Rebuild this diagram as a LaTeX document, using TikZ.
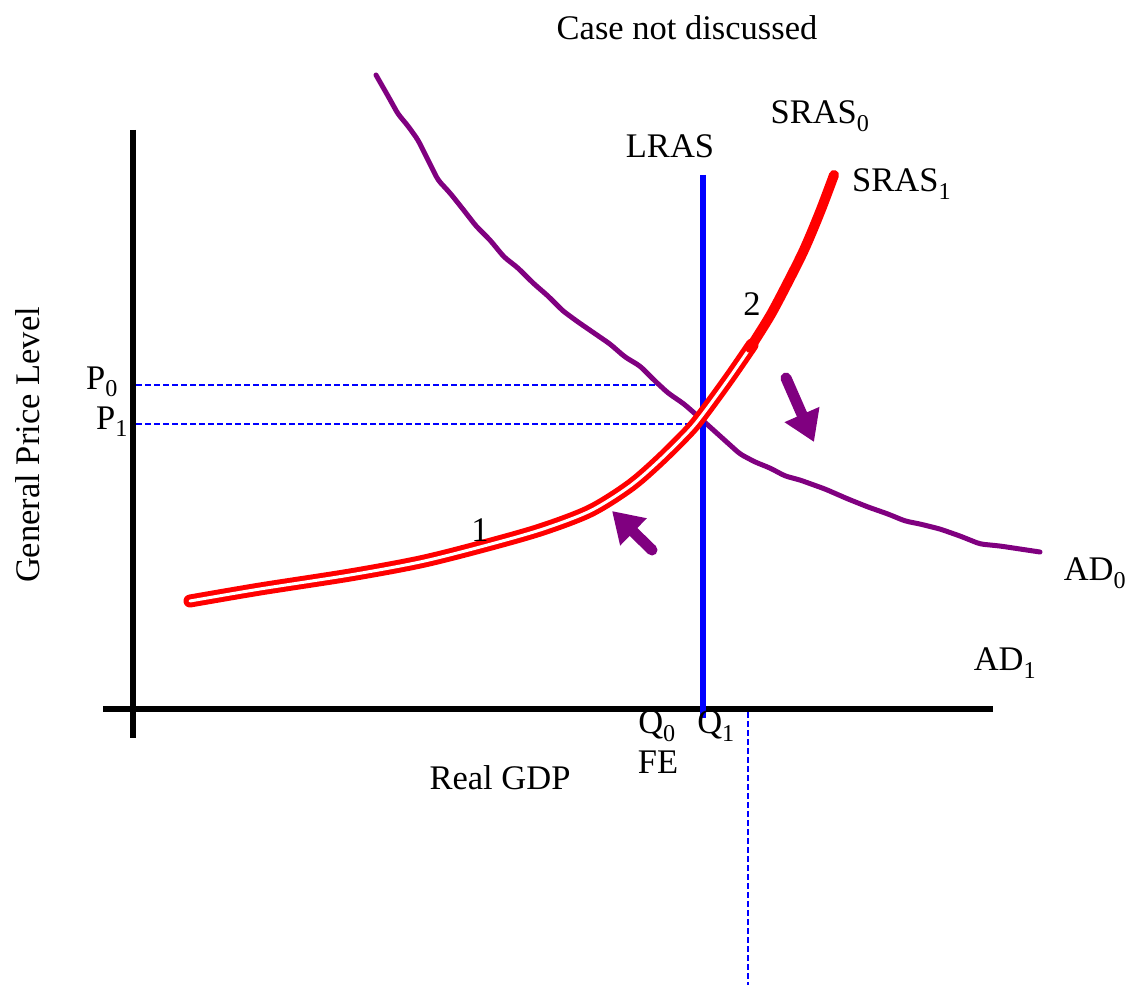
\documentclass[tikz,border=0pt]{standalone}
\usepackage{fontspec}
\setmainfont{Liberation Serif}
\usetikzlibrary{arrows.meta}
\begin{document}
\begin{tikzpicture}[x=1pt,y=-1pt,
  lbl/.style={font=\fontsize{34.5}{40}\selectfont, inner sep=0pt},
  axis/.style={line width=6pt, black},
  guide/.style={blue, line width=1.6pt, dash pattern=on 6pt off 3pt},
  adcurve/.style={color={rgb,255:red,128;green,0;blue,128}, line width=5pt, line join=round, line cap=round},
  srascurve/.style={draw=red, double=white, line width=5pt, double distance=3pt, line join=round, line cap=round},
  srastop/.style={red, line width=10pt, line cap=round, line join=round},
  shiftarrow/.style={color={rgb,255:red,128;green,0;blue,128}, line width=11pt, line cap=round, -{Triangle[width=36pt,length=30pt]}}
]
\useasboundingbox (0,0) rectangle (1126,987);
\fill[white] (0,0) rectangle (1126,987);

% axes
\draw[axis] (133,130) -- (133,738);
\draw[axis] (103,709) -- (993,709);

% guide lines
\coordinate (p0s) at (136,385);
\coordinate (p0e) at (655,385);
\coordinate (p1s) at (136,424);
\coordinate (p1e) at (700,424);
\coordinate (vs) at (748,712);
\coordinate (ve) at (748,985);
\draw[guide] (p0s) -- (p0e);
\draw[guide] (p1s) -- (p1e);
\draw[guide] (vs) -- (ve);

% AD curve (slightly hand-drawn)
\draw[adcurve, rounded corners=4pt]
  (376,75) -- (388,96) -- (398,114) -- (408,126) -- (418,140) -- (428,160) -- (438,180) -- (450,193) -- (462,208) -- (476,226) -- (490,240) -- (504,257) -- (518,268) -- (533,283) -- (548,296) -- (563,311) -- (578,322) -- (594,333) -- (610,344) -- (625,357) -- (640,366) -- (655,381) -- (668,393) -- (684,404) -- (700,418) -- (720,436) -- (740,454) -- (755,462) -- (770,468) -- (785,476) -- (800,480) -- (825,489) -- (848,499) -- (868,507) -- (888,514) -- (905,521) -- (920,524) -- (940,529) -- (960,536) -- (980,544) -- (1000,546) -- (1020,549) -- (1040,552);

% LRAS
\draw[blue, line width=6pt] (703,175) -- (703,718);

% SRAS curve
\draw[srascurve] plot[smooth, tension=0.5] coordinates {(190,601) (260,589) (350,575) (420,562) (480,547) (540,530) (590,511) (630,486) (660,460) (690,430) (706,410) (730,377) (752,345)};
\draw[srastop] plot[smooth, tension=0.5] coordinates {(750,348) (770,316) (786,286) (804,250) (820,212) (834,175)};

% shift arrows
\draw[shiftarrow] (652,550) -- (612,511);
\draw[shiftarrow] (786,378) -- (814,442);

% labels
\node[lbl] (title) at (687,28) {Case not discussed};
\node[lbl] (lras) at (670,146) {LRAS};
\node[lbl] (sras0) at (820,116) {SRAS\textsubscript{0}};
\node[lbl, anchor=west] (sras1) at (852,184) {SRAS\textsubscript{1}};
\node[lbl] (two) at (752,304) {2};
\node[lbl] (one) at (480,530) {1};
\node[lbl] (p0) at (102,382) {P\textsubscript{0}};
\node[lbl] (p1) at (112,422) {P\textsubscript{1}};
\node[lbl] (ad0) at (1095,573) {AD\textsubscript{0}};
\node[lbl] (ad1) at (1005,663) {AD\textsubscript{1}};
\node[lbl] (q0) at (657,726) {Q\textsubscript{0}};
\node[lbl] (fe) at (658,762) {FE};
\node[lbl] (q1) at (716,726) {Q\textsubscript{1}};
\node[lbl] (xlab) at (500,778) {Real GDP};
\node[lbl, rotate=90] (ylab) at (28,445) {General Price Level};
\end{tikzpicture}
\end{document}
